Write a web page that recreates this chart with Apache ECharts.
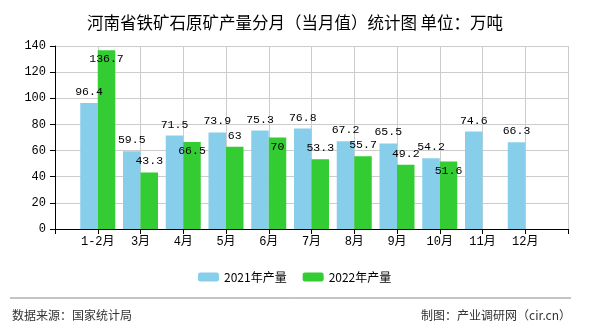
<!DOCTYPE html>
<html><head><meta charset="utf-8">
<script src="https://cdn.jsdelivr.net/npm/echarts@6/dist/echarts.min.js"></script>
<style>html,body{margin:0;padding:0;background:#fff}#c{width:590px;height:330px}</style>
</head><body><div id="c"></div>
<script>
var months = ['1-2月','3月','4月','5月','6月','7月','8月','9月','10月','11月','12月'];
var yTicks = [0, 20, 40, 60, 80, 100, 120, 140];
var v2021 = [96.4, 59.5, 71.5, 73.9, 75.3, 76.8, 67.2, 65.5, 54.2, 74.6, 66.3];
var v2022 = [136.7, 43.3, 66.5, 63, 70, 53.3, 55.7, 49.2, 51.6, null, null];
var names = ['2021年产量', '2022年产量'];

var inside2022 = {0:1, 2:1, 4:1, 8:1};
var cats = [''].concat(months, ['']);
function pad(arr, insideMap){
  var out = [null];
  arr.forEach(function(v, i){
    if (v === null) { out.push(null); return; }
    var item = {value: v};
    if (insideMap && insideMap[i]) item.label = {position: 'insideTop', distance: 3};
    out.push(item);
  });
  out.push(null);
  return out;
}
var numFont = 'Liberation Mono';
var chart = echarts.init(document.getElementById('c'));
chart.setOption({
  animation: false,
  title: {text: '河南省铁矿石原矿产量分月（当月值）统计图 单位：万吨', left: 'center', top: 9,
    textStyle: {fontSize: 16.5, fontWeight: 'normal', color: '#000', fontFamily: 'Noto Sans CJK SC'}},
  grid: {left: 55, right: 22, top: 46, bottom: 101},
  legend: {left: 198, top: 271, padding: 0, itemWidth: 21, itemHeight: 9, itemGap: 16,
    textStyle: {fontSize: 12, color: '#000', fontFamily: 'Noto Sans CJK SC'},
    data: names},
  xAxis: {type: 'category', data: cats, boundaryGap: false,
    axisLine: {lineStyle: {color: '#000'}},
    axisTick: {show: true, length: 5, interval: 0, lineStyle: {color: '#000'}},
    axisLabel: {interval: 0, color: '#000', fontSize: 12, margin: 7, fontFamily: numFont + ', Noto Sans CJK SC'},
    splitLine: {show: true, interval: 0, lineStyle: {color: '#ccc'}}},
  yAxis: {type: 'value', min: yTicks[0], max: yTicks[yTicks.length-1], interval: yTicks[1]-yTicks[0],
    axisLine: {show: true, lineStyle: {color: '#000'}},
    axisTick: {show: true, length: 5, lineStyle: {color: '#000'}},
    axisLabel: {color: '#000', fontSize: 12, margin: 9, fontFamily: numFont},
    splitLine: {lineStyle: {color: '#ccc'}}},
  series: [
    {name: names[0], type: 'bar', data: pad(v2021), barWidth: 17.5, barGap: '0%',
     itemStyle: {color: '#87CEEB'},
     label: {show: true, position: 'top', distance: 5, color: '#000', fontSize: 11.5, fontFamily: numFont}},
    {name: names[1], type: 'bar', data: pad(v2022, inside2022), barWidth: 17.5, barGap: '0%',
     itemStyle: {color: '#33CC33'},
     label: {show: true, position: 'top', distance: 5, color: '#000', fontSize: 11.5, fontFamily: numFont}}
  ],
  graphic: [
    {type: 'line', shape: {x1: 10, y1: 298, x2: 571, y2: 298}, style: {stroke: '#888', lineWidth: 1}},
    {type: 'text', left: 12, top: 309, style: {text: '数据来源：国家统计局', fontSize: 12, fill: '#333', fontFamily: 'Noto Sans CJK SC'}},
    {type: 'text', right: 19, top: 309, style: {text: '制图：产业调研网（cir.cn）', fontSize: 12, fill: '#333', fontFamily: 'Noto Sans CJK SC'}}
  ]
});
</script></body></html>
